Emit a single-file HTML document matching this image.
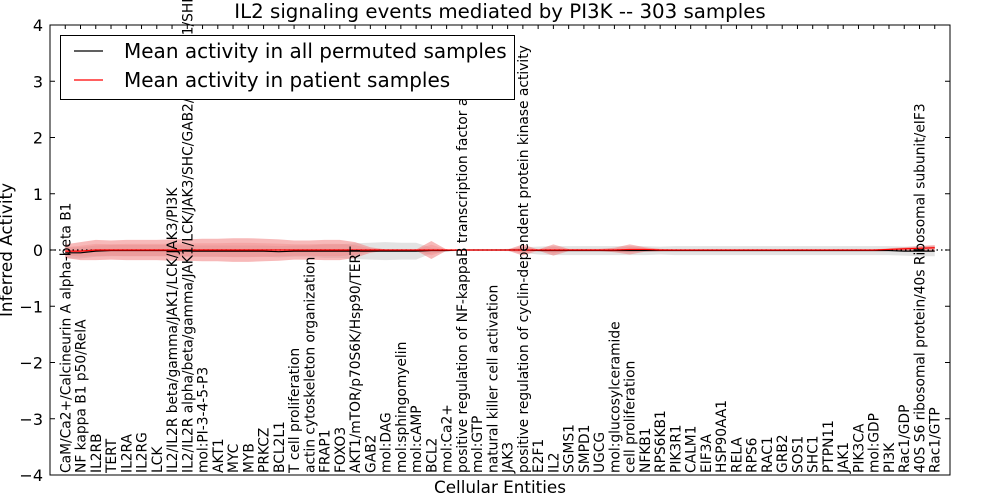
<!DOCTYPE html>
<html><head><meta charset="utf-8"><style>
html,body{margin:0;padding:0;background:#fff;}
svg{display:block;font-family:"DejaVu Sans","Liberation Sans",sans-serif;}
</style></head><body>
<svg id="chart" width="1000" height="500" viewBox="0 0 1000 500">
<g id="bands"></g><g id="lines"></g><g id="axes"></g><g id="xlabels"></g>
</svg>
<script>
const labels=["CaM/Ca2+/Calcineurin A alpha-beta B1","NF kappa B1 p50/RelA","IL2RB","TERT","IL2RA","IL2RG","LCK","IL2/IL2R beta/gamma/JAK1/LCK/JAK3/PI3K","IL2/IL2R alpha/beta/gamma/JAK1/LCK/JAK3/SHC/GAB2/PI3K/SOS1/SHP2","mol:PI-3-4-5-P3","AKT1","MYC","MYB","PRKCZ","BCL2L1","T cell proliferation","actin cytoskeleton organization","FRAP1","FOXO3","AKT1/mTOR/p70S6K/Hsp90/TERT","GAB2","mol:DAG","mol:sphingomyelin","mol:cAMP","BCL2","mol:Ca2+","positive regulation of NF-kappaB transcription factor activity","mol:GTP","natural killer cell activation","JAK3","positive regulation of cyclin-dependent protein kinase activity","E2F1","IL2","SGMS1","SMPD1","UGCG","mol:glucosylceramide","cell proliferation","NFKB1","RPS6KB1","PIK3R1","CALM1","EIF3A","HSP90AA1","RELA","RPS6","RAC1","GRB2","SOS1","SHC1","PTPN11","JAK1","PIK3CA","mol:GDP","PI3K","Rac1/GDP","40S S6 ribosomal protein/40s Ribosomal subunit/eIF3","Rac1/GTP"];
const permMean=[-0.05,-0.05,-0.02,-0.01,-0.01,-0.01,-0.01,-0.01,-0.02,-0.02,-0.02,-0.02,-0.02,-0.02,-0.03,-0.02,-0.02,-0.02,-0.02,-0.02,-0.02,-0.02,-0.02,-0.02,-0.01,-0.01,0,0,0,0,0,-0.01,-0.01,-0.01,-0.01,-0.01,-0.01,-0.01,-0.01,-0.01,-0.01,-0.01,-0.01,-0.01,-0.01,-0.01,-0.01,-0.01,-0.01,-0.01,-0.01,-0.01,-0.01,-0.01,-0.01,-0.02,-0.02,-0.02];
const permSd=[0.1,0.1,0.1,0.1,0.1,0.1,0.1,0.1,0.1,0.1,0.1,0.1,0.1,0.1,0.1,0.1,0.1,0.12,0.12,0.14,0.15,0.16,0.15,0.15,0.05,0.02,0.01,0.01,0.01,0.02,0.05,0.07,0.08,0.08,0.08,0.08,0.08,0.08,0.08,0.07,0.08,0.08,0.08,0.08,0.08,0.08,0.08,0.08,0.08,0.08,0.08,0.08,0.08,0.08,0.08,0.08,0.09,0.09];
const patMean=[-0.02,-0.02,0,0,0,0,0,0,0,0,0,0,0,0,0,0,0,0,0,0,0,0,0,0,0,0,0,0,0,0,0,0,0,0,0,0,0,0.01,0.01,0,0,0,0,0,0,0,0,0,0,0,0,0,0,0,0.01,0.02,0.03,0.04];
const patSd=[0.12,0.16,0.18,0.17,0.18,0.18,0.18,0.19,0.19,0.2,0.2,0.21,0.21,0.2,0.19,0.17,0.17,0.18,0.18,0.14,0.05,0.01,0.01,0.01,0.16,0.01,0.01,0.01,0.01,0.01,0.1,0.01,0.1,0.02,0.02,0.02,0.04,0.09,0.04,0.02,0.01,0.01,0.01,0.01,0.01,0.01,0.01,0.01,0.01,0.01,0.01,0.01,0.01,0.01,0.02,0.03,0.04,0.05];
const yTicks=[-4,-3,-2,-1,0,1,2,3,4];

const L=50,R=950,T=25,B=475;
const N=labels.length;
const xs=i=>L+(i+1)*(R-L)/(N+1);
const ys=v=>T+(4-v)*(B-T)/8;
const NS="http://www.w3.org/2000/svg";
function mk(tag,attrs,parent,text){const e=document.createElementNS(NS,tag);for(const k in attrs)e.setAttribute(k,attrs[k]);if(text!==undefined)e.textContent=text;parent.appendChild(e);return e;}
const bands=document.getElementById('bands'),lines=document.getElementById('lines'),axes=document.getElementById('axes'),xl=document.getElementById('xlabels');
function band(mean,sd,k,fill,op,name){
  let up=[],dn=[];
  for(let i=0;i<N;i++){up.push(xs(i)+','+ys(mean[i]+sd[i]*k));dn.unshift(xs(i)+','+ys(mean[i]-sd[i]*k));}
  const p=mk('polygon',{points:up.concat(dn).join(' '),fill:fill,'fill-opacity':op,stroke:'none'},bands);
  
  
}
band(permMean,permSd,1,'#c8c8c8',0.5,'permuted-band');
band(patMean,patSd,1,'#f08080',0.55,'patient-band-outer');
band(patMean,patSd,0.6,'#f08080',0.35,'patient-band-inner');
const zl=mk('line',{x1:L,x2:R,y1:ys(0),y2:ys(0),stroke:'#000','stroke-dasharray':'1.5,3','stroke-width':1.2},lines);


function line(arr,color,name){
  const pl=mk('polyline',{points:arr.map((v,i)=>xs(i)+','+ys(v)).join(' '),fill:'none',stroke:color,'stroke-width':1.2},lines);
  
  
}
line(permMean,'#000','permuted-mean-line');
line(patMean,'#ff0000','patient-mean-line');
const fr=mk('rect',{x:L,y:T,width:R-L,height:B-T,fill:'none',stroke:'#000','stroke-width':1},axes);


yTicks.forEach(v=>{
  const y=ys(v);
  mk('line',{x1:L,x2:L+5,y1:y,y2:y,stroke:'#000'},axes);
  mk('line',{x1:R-5,x2:R,y1:y,y2:y,stroke:'#000'},axes);
  const t=mk('text',{x:L-7,y:y+6,'text-anchor':'end','font-size':16},axes,(v<0?'\u2212':'')+Math.abs(v));
  
  
});
labels.forEach((s,i)=>{
  const x=xs(i);
  mk('line',{x1:x,x2:x,y1:T,y2:T+4,stroke:'#000'},axes);
  const t=mk('text',{x:0,y:0,transform:`translate(${x+5},${B-2}) rotate(-90)`,'font-size':13.8},xl,s);
  
  
});
</script>
<svg width="1000" height="500" style="position:absolute;left:0;top:0">
<text x="500" y="18" text-anchor="middle" font-size="19.8">IL2 signaling events mediated by PI3K -- 303 samples</text>
<text x="500" y="493" text-anchor="middle" font-size="16.8">Cellular Entities</text>
<text transform="translate(12,250) rotate(-90)" text-anchor="middle" font-size="16.8">Inferred Activity</text>
<g>
<rect x="60.5" y="35.5" width="454" height="64" fill="#fff" stroke="#000"/>
<line x1="74" x2="103" y1="51" y2="51" stroke="#000" stroke-width="1.2"/>
<text x="124" y="58" font-size="20">Mean activity in all permuted samples</text>
<line x1="74" x2="103" y1="80" y2="80" stroke="#f00" stroke-width="1.2"/>
<text x="124" y="87" font-size="20">Mean activity in patient samples</text>
</g>
</svg>
</body></html>
